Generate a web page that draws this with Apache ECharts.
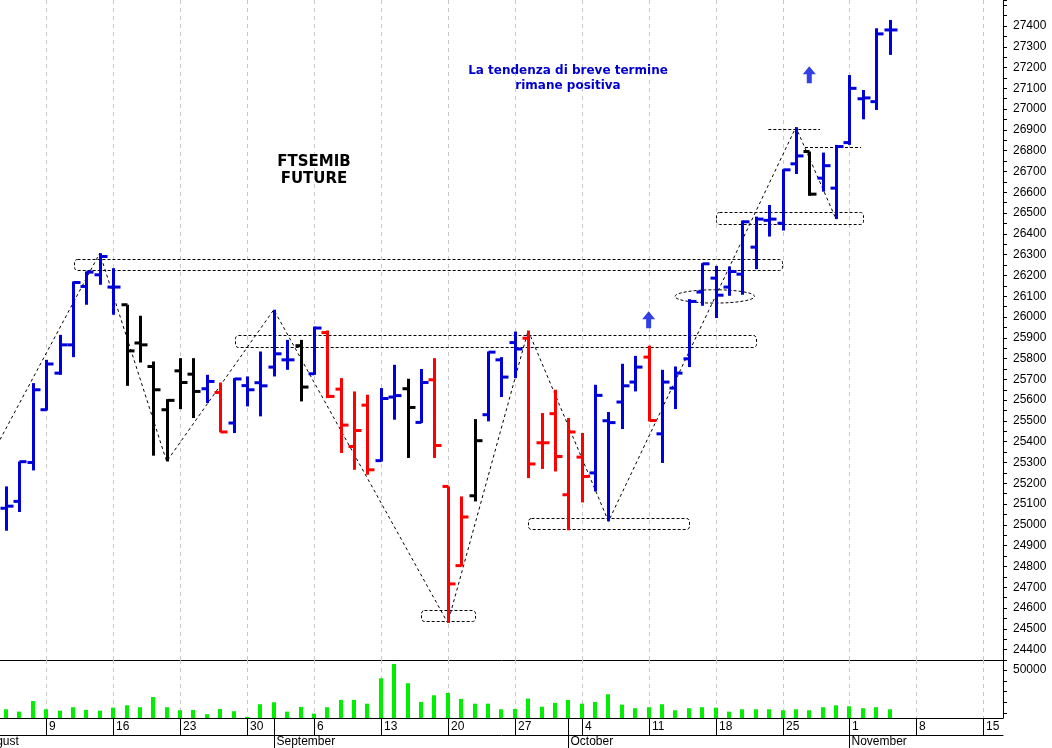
<!DOCTYPE html>
<html>
<head>
<meta charset="utf-8">
<title>FTSEMIB Future</title>
<script src="https://cdn.jsdelivr.net/npm/echarts@6.0.0/dist/echarts.min.js"></script>
<style>
html,body{margin:0;padding:0;background:#ffffff;}
#chart{width:1052px;height:748px;}
</style>
</head>
<body>
<div id="chart"></div>
<script>
// ---- trading days (x = index in this list) ----
const days = ['2021-08-04','2021-08-05','2021-08-06','2021-08-09','2021-08-10','2021-08-11','2021-08-12','2021-08-13',
'2021-08-16','2021-08-17','2021-08-18','2021-08-19','2021-08-20','2021-08-23','2021-08-24','2021-08-25','2021-08-26','2021-08-27',
'2021-08-30','2021-08-31','2021-09-01','2021-09-02','2021-09-03','2021-09-06','2021-09-07','2021-09-08','2021-09-09','2021-09-10',
'2021-09-13','2021-09-14','2021-09-15','2021-09-16','2021-09-17','2021-09-20','2021-09-21','2021-09-22','2021-09-23','2021-09-24',
'2021-09-27','2021-09-28','2021-09-29','2021-09-30','2021-10-01','2021-10-04','2021-10-05','2021-10-06','2021-10-07','2021-10-08',
'2021-10-11','2021-10-12','2021-10-13','2021-10-14','2021-10-15','2021-10-18','2021-10-19','2021-10-20','2021-10-21','2021-10-22',
'2021-10-25','2021-10-26','2021-10-27','2021-10-28','2021-10-29','2021-11-01','2021-11-02','2021-11-03','2021-11-04'];

const opens = [25080,25113,25300,25554,25730,25866,26147,26203,26144,26059,
25875,25762,25554,25741,25725,25655,25637,25490,25670,25684,
25759,25794,25862,25727,25925,25653,25377,25576,25309,25615,
25655,25493,25698,25185,24804,25140,25530,25794,25877,25898,
25395,25535,25145,25326,25250,25501,25591,25687,25807,25438,
25658,25799,26120,26187,26144,26206,26336,26465,26451,26737,
26796,26668,26620,26839,27050,27036,27381];
const highs = [25185,25305,25682,25794,25914,26171,26219,26307,26235,26059,
26006,25786,25605,25802,25802,25722,25685,25706,25714,25834,
26035,25890,25890,25954,25935,25706,25642,25626,25658,25770,
25703,25750,25802,25185,25137,25509,25834,25807,25930,25935,
25538,25650,25514,25442,25674,25543,25775,25813,25862,25746,
25762,26086,26259,26246,26243,26464,26483,26539,26711,26913,
26796,26791,26828,27164,27092,27389,27429];
const lows = [24972,25062,25262,25550,25722,25807,26059,26155,26011,25669,
25781,25333,25305,25557,25514,25586,25445,25442,25570,25522,
25714,25746,25594,25722,25610,25346,25265,25241,25305,25506,
25322,25490,25322,24528,24800,25113,25498,25615,25706,25225,
25269,25257,24974,25108,25161,25017,25461,25642,25498,25298,
25557,25759,26054,25995,26102,26107,26230,26387,26416,26688,
26583,26603,26471,26828,26951,26996,27261];
const closes = [25090,25304,25650,25774,25866,26166,26216,26291,26144,25837,
25866,25650,25599,25685,25642,25690,25447,25702,25650,25669,
25823,25794,25663,25947,25618,25480,25454,25265,25608,25622,
25565,25685,25382,24716,25038,25405,25831,25711,25846,25293,
25395,25329,25447,25233,25623,25492,25669,25759,25502,25687,
25730,26075,26256,26105,26219,26458,26471,26471,26708,26775,
26591,26728,26820,27100,27054,27362,27381];
// B = blue, R = red, K = black
const barColorCodes = 'BBBBBBBBBKKKKKKBRBBBBBKBRRRRBBKBRRRKBBBRRRRRBBBBRBBBBBBBBBBBKBBBBBB'.split('');
const volumes = [13700,11500,21400,13700,12400,15600,13100,12400,15200,17400,
15600,25100,15600,12800,13100,9100,14000,11900,6600,18400,
20200,11500,15900,9700,15600,22400,22400,18900,42500,55800,
37900,20500,26700,28900,23300,18900,18900,13700,14000,23600,
16100,19600,22400,18900,20500,27600,18000,14700,15600,18400,
12800,14700,15600,15200,11500,13700,13700,13700,12800,13700,
12800,15600,17400,16500,14700,15600,13700];

// ---- axis labels ----
const weekPos = [3,8,13,18,23,28,33,38,43,48,53,58,63,68,73];
const weekLabels = ['9','16','23','30','6','13','20','27','4','11','18','25','1','8','15'];
const monthPos = [-2,20,42,63];
const monthLabels = ['August','September','October','November'];
const volTicks = [10000,20000,30000,40000,50000];
const volLabels = [50000];

// ---- annotations (day index, price) ----
const trendPts = [[-0.45,25410],[7,26307],[12,25305],[20,26035],[33,24528],[39,25935],[45,25017],[59,26913],[62,26471]];
const zones = [[5.1,58,26227,26278],[17.1,56,25855,25912],[31,35,24540,24592],[39,51,24980,25033],[53,64,26448,26504]];
const levels = [[56.94,60.8,26905],[59.68,63.87,26817]];
const ellipses = [[52.94,26099,2.97,32]];
const arrowPts = [[48,25987],[60,27166]];

// ---- chart ----
const X_MIN = -0.45, X_MAX = 74.47;
const P_MIN = 24350, P_MAX = 27525;
const V_MIN = 5600, V_MAX = 59460;
const colorOf = {B:'#0000d8', R:'#ff0000', K:'#000000'};
const codeIdx = {B:0, R:1, K:2};
const colorList = [colorOf.B, colorOf.R, colorOf.K];

const ohlcData = opens.map((o, i) => [i, o, highs[i], lows[i], closes[i], codeIdx[barColorCodes[i]]]);
const volData = volumes.map((v, i) => [i, v]);

function xAxisFor(gi) {
  return {gridIndex: gi, type: 'value', min: X_MIN, max: X_MAX,
    axisLabel: {show: false}, axisTick: {show: false}, splitLine: {show: false},
    axisLine: {show: true, onZero: false, lineStyle: {color: '#000', width: 1}}};
}

function gridLineRender(params, api) {
  const x = Math.round(api.coord([api.value(0), api.value(1)])[0]) + 0.5;
  const cs = params.coordSys;
  return {type: 'line', shape: {x1: x, y1: cs.y, x2: x, y2: cs.y + cs.height},
    style: {stroke: '#c8c8c8', lineWidth: 1, lineDash: [4, 4]}};
}

const chart = echarts.init(document.getElementById('chart'), null, {renderer: 'canvas'});
chart.setOption({
  animation: false,
  backgroundColor: '#ffffff',
  grid: [
    {left: 0, top: 0, width: 1003, height: 660},
    {left: 0, top: 660, width: 1003, height: 58},
    {left: 0, top: 718, width: 1003, height: 17}
  ],
  xAxis: [xAxisFor(0), xAxisFor(1), xAxisFor(2)],
  yAxis: [
    {gridIndex: 0, type: 'value', position: 'right', min: P_MIN, max: P_MAX, interval: 50,
      axisLine: {show: true, onZero: false, lineStyle: {color: '#000', width: 1}},
      axisTick: {show: true, length: 4, lineStyle: {color: '#000'}},
      splitLine: {show: false},
      axisLabel: {margin: 10, color: '#000', fontFamily: 'Liberation Sans', fontSize: 12,
        formatter: v => (v % 100 === 0 && v >= 24400 && v <= 27400) ? String(v) : ''}},
    {gridIndex: 1, type: 'value', position: 'right', min: V_MIN, max: V_MAX,
      axisLine: {show: true, onZero: false, lineStyle: {color: '#000', width: 1}},
      axisTick: {show: true, length: 4, customValues: volTicks, lineStyle: {color: '#000'}},
      splitLine: {show: false},
      axisLabel: {margin: 10, color: '#000', fontFamily: 'Liberation Sans', fontSize: 12, customValues: volLabels,
        formatter: v => String(v)}},
    {gridIndex: 2, type: 'value', min: 0, max: 1, show: false, axisLine: {show: false, onZero: false}}
  ],
  graphic: [
    {type: 'text', x: 314, y: 154, z: 100,
      style: {text: 'FTSEMIB\nFUTURE', font: 'bold 15px "DejaVu Sans"', fill: '#000', textAlign: 'center', align: 'center', lineHeight: 17}},
    {type: 'text', x: 568, y: 63, z: 100,
      style: {text: 'La tendenza di breve termine\nrimane positiva', font: 'bold 12px "DejaVu Sans"', fill: '#0000cc', textAlign: 'center', align: 'center', lineHeight: 15}}
  ],
  series: [
    {type: 'custom', name: 'grid-price', xAxisIndex: 0, yAxisIndex: 0, z: 1, silent: true,
      data: weekPos.map(p => [p, P_MIN]), renderItem: gridLineRender},
    {type: 'custom', name: 'grid-vol', xAxisIndex: 1, yAxisIndex: 1, z: 1, silent: true,
      data: weekPos.map(p => [p, V_MIN]), renderItem: gridLineRender},
    {type: 'custom', name: 'zones', xAxisIndex: 0, yAxisIndex: 0, z: 2, silent: true,
      data: zones.map(z => [z[0], z[2]]),
      renderItem: (params, api) => {
        const z = zones[params.dataIndex];
        const a = api.coord([z[0], z[3]]);
        const b = api.coord([z[1], z[2]]);
        return {type: 'rect', shape: {x: Math.round(a[0]) + 0.5, y: Math.round(a[1]) + 0.5, width: Math.round(b[0] - a[0]), height: Math.round(b[1] - a[1]), r: 3},
          style: {fill: 'transparent', stroke: '#000', lineWidth: 1, lineDash: [3, 2]}};
      }},
    {type: 'custom', name: 'levels', xAxisIndex: 0, yAxisIndex: 0, z: 2, silent: true,
      data: levels.map(l => [l[0], l[2]]),
      renderItem: (params, api) => {
        const l = levels[params.dataIndex];
        const a = api.coord([l[0], l[2]]);
        const b = api.coord([l[1], l[2]]);
        const y = Math.round(a[1]) + 0.5;
        return {type: 'line', shape: {x1: a[0], y1: y, x2: b[0], y2: y},
          style: {stroke: '#000', lineWidth: 1, lineDash: [3, 2]}};
      }},
    {type: 'custom', name: 'ellipse', xAxisIndex: 0, yAxisIndex: 0, z: 2, silent: true,
      data: ellipses.map(e => [e[0], e[1]]),
      renderItem: (params, api) => {
        const e = ellipses[params.dataIndex];
        const c = api.coord([e[0], e[1]]);
        const r = api.coord([e[0] + e[2], e[1] + e[3]]);
        return {type: 'ellipse', shape: {cx: c[0], cy: c[1], rx: r[0] - c[0], ry: c[1] - r[1]},
          style: {fill: 'transparent', stroke: '#000', lineWidth: 1, lineDash: [3, 2]}};
      }},
    {type: 'line', name: 'trend', xAxisIndex: 0, yAxisIndex: 0, z: 2, silent: true,
      data: trendPts, symbol: 'none', smooth: false,
      lineStyle: {color: '#000', width: 1, type: [3, 3]}},
    {type: 'custom', name: 'FTSEMIB', xAxisIndex: 0, yAxisIndex: 0, z: 3,
      data: ohlcData,
      encode: {x: 0, y: [1, 2, 3, 4]},
      renderItem: (params, api) => {
        const i = api.value(0);
        const col = colorList[api.value(5)];
        const x = Math.round(api.coord([i, api.value(1)])[0]) + 0.5;
        const yO = api.coord([i, api.value(1)])[1];
        const yH = api.coord([i, api.value(2)])[1];
        const yL = api.coord([i, api.value(3)])[1];
        const yC = api.coord([i, api.value(4)])[1];
        const st = {stroke: col, lineWidth: 3, lineCap: 'butt'};
        return {type: 'group', children: [
          {type: 'line', shape: {x1: x, y1: yH, x2: x, y2: yL}, style: st},
          {type: 'line', shape: {x1: x - 6, y1: yO, x2: x, y2: yO}, style: st},
          {type: 'line', shape: {x1: x, y1: yC, x2: x + 7, y2: yC}, style: st}
        ]};
      }},
    {type: 'scatter', name: 'arrows', xAxisIndex: 0, yAxisIndex: 0, z: 4, silent: true,
      data: arrowPts,
      symbol: 'path://M6.5,0 L13,8 L9,8 L9,17 L4,17 L4,8 L0,8 Z', symbolSize: [13, 17], symbolKeepAspect: false,
      itemStyle: {color: '#0010e0'}},
    {type: 'custom', name: 'Volume', xAxisIndex: 1, yAxisIndex: 1, z: 3,
      data: volData,
      renderItem: (params, api) => {
        const p = api.coord([api.value(0), api.value(1)]);
        const b = api.coord([api.value(0), V_MIN]);
        const x = Math.round(p[0]);
        return {type: 'rect', shape: {x: x - 2, y: p[1], width: 4, height: b[1] - p[1]},
          style: {fill: '#00ee00'}};
      }},
    {type: 'custom', name: 'weeks', xAxisIndex: 2, yAxisIndex: 2, z: 3, silent: true,
      data: weekPos.map(p => [p, 0.5]),
      renderItem: (params, api) => {
        const i = params.dataIndex;
        const x = Math.round(api.coord([weekPos[i], 0.5])[0]) + 0.5;
        const cs = params.coordSys;
        return {type: 'group', children: [
          {type: 'line', shape: {x1: x, y1: cs.y, x2: x, y2: cs.y + cs.height}, style: {stroke: '#000', lineWidth: 1}},
          {type: 'text', style: {text: weekLabels[i], x: x + 2.5, y: cs.y + cs.height / 2 + 0.5, fill: '#000',
            font: '12px "Liberation Sans"', textVerticalAlign: 'middle', verticalAlign: 'middle'}}
        ]};
      }},
    {type: 'custom', name: 'months', xAxisIndex: 2, yAxisIndex: 2, z: 3, silent: true,
      data: monthPos.map(p => [p, 0.5]),
      renderItem: (params, api) => {
        const i = params.dataIndex;
        const x = Math.round(api.coord([monthPos[i], 0.5])[0]) + 0.5;
        const cs = params.coordSys;
        return {type: 'group', children: [
          {type: 'line', shape: {x1: x, y1: cs.y, x2: x, y2: cs.y + 30}, style: {stroke: '#000', lineWidth: 1}},
          {type: 'text', style: {text: monthLabels[i], x: x + 2, y: cs.y + cs.height + 7, fill: '#000',
            font: '12px "Liberation Sans"', textVerticalAlign: 'middle', verticalAlign: 'middle'}}
        ]};
      }}
  ]
});
</script>
</body>
</html>
